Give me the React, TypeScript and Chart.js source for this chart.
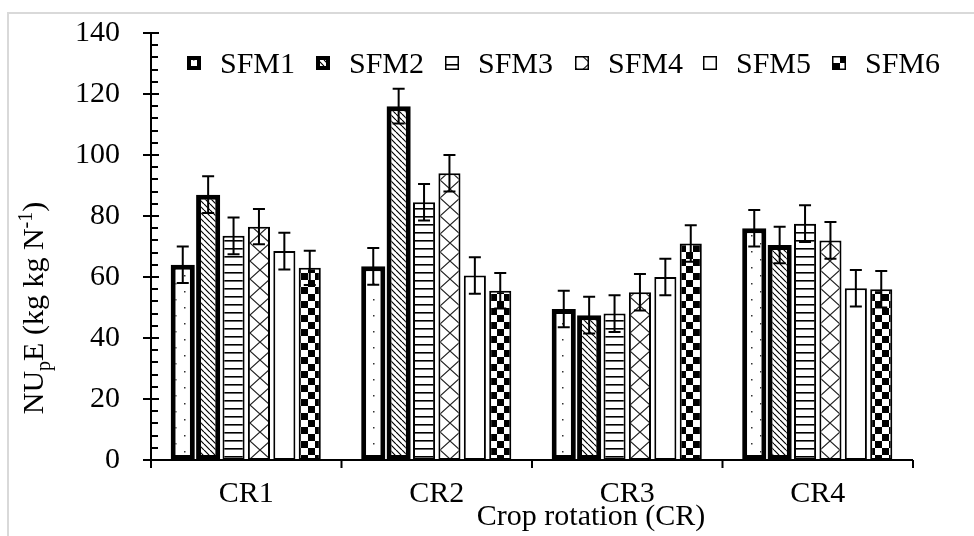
import React, { useEffect, useRef } from "react";
import { Chart, registerables } from "chart.js";

Chart.register(...registerables);

// Crop rotations on the x axis
const categories = ["CR1", "CR2", "CR3", "CR4"];
const seriesNames = ["SFM1", "SFM2", "SFM3", "SFM4", "SFM5", "SFM6"];

// NUpE means per treatment (kg kg N-1)
const sfm1 = [64, 63.5, 49.5, 76];
const sfm2 = [87, 116, 47.5, 70.5];
const sfm3 = [73.5, 84.5, 48, 77.5];
const sfm4 = [76.5, 94, 55, 72];
const sfm5 = [68.5, 60.5, 60, 56.3];
const sfm6 = [63, 55.5, 71, 56];

// Error bar half-widths
const sfm1Err = [6, 6, 6, 6];
const sfm2Err = [6, 5.7, 6, 6];
const sfm3Err = [6, 6, 6, 6];
const sfm4Err = [5.8, 6, 6, 6];
const sfm5Err = [6, 6, 6, 6];
const sfm6Err = [5.6, 5.8, 6, 6];

const yTicks = [0, 20, 40, 60, 80, 100, 120, 140];

const FONT = '"Liberation Serif", "Times New Roman", serif';

// Plot area inside the 974x536 canvas
const AREA = { left: 151, top: 33, right: 913, bottom: 460 };

function makeTile(w: number, h: number, draw: (c: CanvasRenderingContext2D) => void) {
  const cv = document.createElement("canvas");
  cv.width = w;
  cv.height = h;
  const c = cv.getContext("2d")!;
  c.fillStyle = "#ffffff";
  c.fillRect(0, 0, w, h);
  draw(c);
  return cv;
}

function buildPatterns(ctx: CanvasRenderingContext2D) {
  const dots = makeTile(18, 16, (c) => {
    c.fillStyle = "#333";
    c.fillRect(4, 3, 1.5, 1.5);
    c.fillRect(13, 11, 1.5, 1.5);
  });
  const diag = makeTile(6, 6, (c) => {
    c.strokeStyle = "#000";
    c.lineWidth = 1.2;
    c.beginPath();
    for (const o of [-6, 0, 6]) {
      c.moveTo(o, 0);
      c.lineTo(o + 6, 6);
    }
    c.stroke();
  });
  const horiz = makeTile(8, 8, (c) => {
    c.fillStyle = "#000";
    c.fillRect(0, 0, 8, 1.6);
  });
  const cross = makeTile(20, 18, (c) => {
    c.strokeStyle = "#222";
    c.lineWidth = 1.2;
    c.beginPath();
    c.moveTo(0, 0);
    c.lineTo(20, 18);
    c.moveTo(20, 0);
    c.lineTo(0, 18);
    c.stroke();
  });
  const checker = makeTile(14, 14, (c) => {
    c.fillStyle = "#000";
    c.fillRect(0, 0, 7, 7);
    c.fillRect(7, 7, 7, 7);
  });
  return [
    ctx.createPattern(dots, "repeat")!,
    ctx.createPattern(diag, "repeat")!,
    ctx.createPattern(horiz, "repeat")!,
    ctx.createPattern(cross, "repeat")!,
    "#ffffff",
    ctx.createPattern(checker, "repeat")!,
  ];
}

const errorSets = [sfm1Err, sfm2Err, sfm3Err, sfm4Err, sfm5Err, sfm6Err];

const framePlugin = {
  id: "frame",
  beforeDraw(chart: any) {
    const { ctx, width, height } = chart;
    ctx.save();
    ctx.strokeStyle = "#d9d9d9";
    ctx.lineWidth = 2;
    ctx.beginPath();
    ctx.moveTo(8, height);
    ctx.lineTo(8, 13);
    ctx.lineTo(width, 13);
    ctx.stroke();
    ctx.restore();
  },
};

const axesPlugin = {
  id: "axesAndErrors",
  afterDatasetsDraw(chart: any) {
    const { ctx } = chart;
    const x = chart.scales.x;
    const y = chart.scales.y;
    ctx.save();
    ctx.strokeStyle = "#000";
    ctx.lineWidth = 2;
    // y axis line with major (crossing) and minor (inside) ticks
    ctx.beginPath();
    ctx.moveTo(x.left, y.top);
    ctx.lineTo(x.left, y.bottom);
    for (let v = 0; v <= 140; v += 4) {
      const py = Math.round(y.getPixelForValue(v));
      if (v % 20 === 0) {
        ctx.moveTo(x.left - 8, py);
        ctx.lineTo(x.left + 8, py);
      } else {
        ctx.moveTo(x.left, py);
        ctx.lineTo(x.left + 7, py);
      }
    }
    // x axis line and category boundary ticks
    ctx.moveTo(x.left, y.bottom);
    ctx.lineTo(x.right, y.bottom);
    const n = categories.length;
    for (let i = 0; i <= n; i++) {
      const px = x.left + (i * (x.right - x.left)) / n;
      ctx.moveTo(px, y.bottom);
      ctx.lineTo(px, y.bottom + 8);
    }
    ctx.stroke();

    // error bars
    ctx.lineWidth = 2;
    chart.data.datasets.forEach((ds: any, i: number) => {
      const meta = chart.getDatasetMeta(i);
      const errs = errorSets[i];
      meta.data.forEach((el: any, j: number) => {
        const v = ds.data[j];
        const e = errs[j];
        const t = y.getPixelForValue(v + e);
        const b = y.getPixelForValue(v - e);
        ctx.beginPath();
        ctx.moveTo(el.x, t);
        ctx.lineTo(el.x, b);
        ctx.moveTo(el.x - 6, t);
        ctx.lineTo(el.x + 6, t);
        ctx.moveTo(el.x - 6, b);
        ctx.lineTo(el.x + 6, b);
        ctx.stroke();
      });
    });
    ctx.restore();
  },
  afterDraw(chart: any) {
    const { ctx } = chart;
    ctx.save();
    ctx.fillStyle = "#000";
    // legend
    const boxX = [187, 316, 445, 575, 703, 832];
    chart.data.datasets.forEach((ds: any, i: number) => {
      const bx = boxX[i];
      const by = 56;
      const s = 14;
      ctx.fillStyle = ds.backgroundColor;
      ctx.fillRect(bx, by, s, s);
      const bw = ds.borderWidth > 3 ? 4 : 1.5;
      ctx.strokeStyle = "#000";
      ctx.lineWidth = bw;
      ctx.strokeRect(bx + bw / 2, by + bw / 2, s - bw, s - bw);
      ctx.fillStyle = "#000";
      ctx.font = `30px ${FONT}`;
      ctx.textBaseline = "alphabetic";
      ctx.textAlign = "left";
      ctx.fillText(ds.label, bx + 33, 73);
    });

    // x axis title
    ctx.font = `30px ${FONT}`;
    ctx.textAlign = "center";
    ctx.textBaseline = "alphabetic";
    ctx.fillText("Crop rotation (CR)", 591, 525);

    // y axis title with subscript and superscript
    const parts: [string, number, number][] = [
      ["NU", 30, 0],
      ["p", 20, 7],
      ["E (kg kg N", 30, 0],
      ["-1", 20, -11],
      [")", 30, 0],
    ];
    let total = 0;
    for (const [t, sz] of parts) {
      ctx.font = `${sz}px ${FONT}`;
      total += ctx.measureText(t).width;
    }
    ctx.translate(43, 308 + total / 2);
    ctx.rotate(-Math.PI / 2);
    ctx.textAlign = "left";
    let cx = 0;
    for (const [t, sz, dy] of parts) {
      ctx.font = `${sz}px ${FONT}`;
      ctx.fillText(t, cx, dy);
      cx += ctx.measureText(t).width;
    }
    ctx.restore();
  },
};

export default function App() {
  const ref = useRef<HTMLCanvasElement | null>(null);

  useEffect(() => {
    const canvas = ref.current!;
    const ctx = canvas.getContext("2d")!;
    const fills = buildPatterns(ctx);
    const values = [sfm1, sfm2, sfm3, sfm4, sfm5, sfm6];
    const thick = [true, true, false, false, false, false];

    const chart = new Chart(canvas, {
      type: "bar",
      data: {
        labels: categories,
        datasets: seriesNames.map((name, i) => ({
          label: name,
          data: values[i],
          backgroundColor: fills[i] as any,
          borderColor: "#000",
          borderWidth: thick[i] ? 5 : 2,
          borderSkipped: false,
          barPercentage: thick[i] ? 0.95 : 0.87,
          categoryPercentage: 0.8,
        })),
      },
      options: {
        responsive: false,
        animation: false,
        layout: { padding: { left: 0, top: AREA.top, right: 974 - AREA.right, bottom: 0 } },
        plugins: {
          legend: { display: false },
          tooltip: { enabled: false },
        },
        scales: {
          x: {
            offset: true,
            grid: { display: false, drawTicks: false },
            border: { display: false },
            ticks: {
              color: "#000",
              font: { family: FONT, size: 30 },
              padding: 16,
            },
            afterFit(scale: any) {
              scale.height = 536 - AREA.bottom;
            },
          },
          y: {
            min: 0,
            max: 140,
            grid: { display: false, drawTicks: true, tickLength: 28 },
            border: { display: false },
            afterBuildTicks(scale: any) {
              scale.ticks = yTicks.map((v) => ({ value: v }));
            },
            ticks: {
              color: "#000",
              font: { family: FONT, size: 30 },
              padding: 3,
            },
            afterFit(scale: any) {
              scale.width = AREA.left;
            },
          },
        },
      },
      plugins: [framePlugin, axesPlugin],
    });

    return () => chart.destroy();
  }, []);

  return (
    <div style={{ position: "fixed", left: 0, top: 0, width: 974, height: 536 }}>
      <canvas ref={ref} width={974} height={536} style={{ display: "block" }} />
    </div>
  );
}
